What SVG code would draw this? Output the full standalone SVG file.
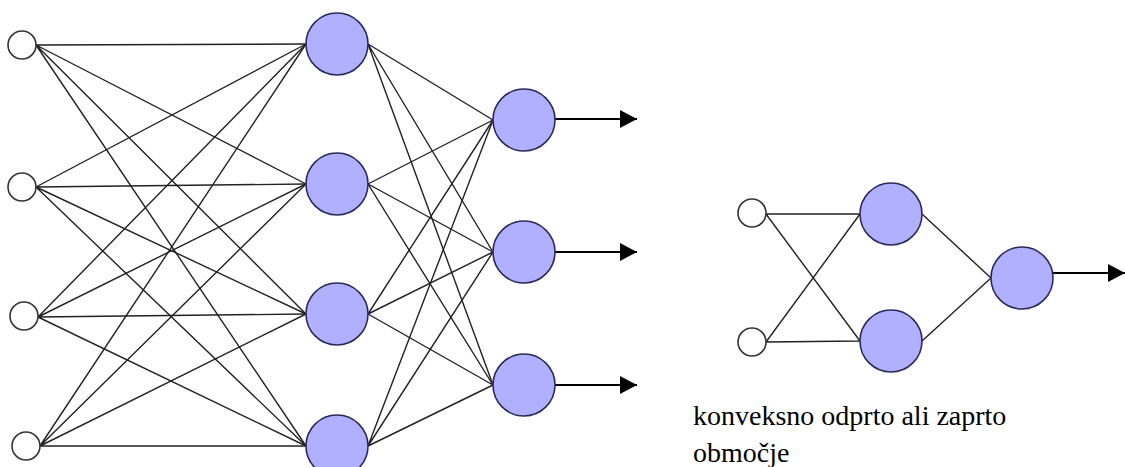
<svg xmlns="http://www.w3.org/2000/svg" width="1125" height="467" viewBox="0 0 1125 467">
<style>
.in{fill:#ffffff;stroke:#333333;stroke-width:1.6}
.nd{fill:#b0b0ff;stroke:#2a2a5a;stroke-width:1.6}
.ln{stroke:#222222;stroke-width:1.4;fill:none}
.ar{stroke:#000000;stroke-width:1.8;fill:none;marker-end:url(#ah)}
</style>
<defs>
<marker id="ah" markerWidth="18" markerHeight="18" refX="17" refY="9" orient="auto" markerUnits="userSpaceOnUse">
<path d="M0,0 L17,9 L0,18 Z" fill="#000"/>
</marker>
</defs>
<rect width="1125" height="467" fill="#ffffff"/>
<g id="connectors">
<path class="ln" d="M36,45 L306,44 M36,45 L306,184 M36,45 L306,314 M36,45 L306,446"/>
<path class="ln" d="M36,187 L306,44 M36,187 L306,184 M36,187 L306,314 M36,187 L306,446"/>
<path class="ln" d="M38,317 L306,44 M38,317 L306,184 M38,317 L306,314 M38,317 L306,446"/>
<path class="ln" d="M40,446 L306,44 M40,446 L306,184 M40,446 L306,314 M40,446 L306,446"/>
<path class="ln" d="M368,44 L493,120 M368,44 L493,252 M368,44 L493,385"/>
<path class="ln" d="M368,184 L493,120 M368,184 L493,252 M368,184 L493,385"/>
<path class="ln" d="M368,314 L493,120 M368,314 L493,252 M368,314 L493,385"/>
<path class="ln" d="M368,446 L493,120 M368,446 L493,252 M368,446 L493,385"/>
<line class="ar" x1="555" y1="119" x2="637" y2="119"/>
<line class="ar" x1="555" y1="252" x2="637" y2="252"/>
<line class="ar" x1="555" y1="385" x2="637" y2="385"/>
<path class="ln" d="M766,214 L860,214 M766,214 L860,341 M766,342 L860,214 M766,342 L860,341"/>
<path class="ln" d="M922,214 L991,278 M922,341 L991,278"/>
<line class="ar" x1="1053" y1="273" x2="1125" y2="273"/>
</g>
<g id="in1"><circle class="in" cx="22" cy="45" r="14"/></g>
<g id="in2"><circle class="in" cx="22" cy="187" r="14"/></g>
<g id="in3"><circle class="in" cx="24" cy="316" r="14"/></g>
<g id="in4"><circle class="in" cx="26" cy="446" r="14"/></g>
<g id="h1"><circle class="nd" cx="337" cy="44" r="31"/></g>
<g id="h2"><circle class="nd" cx="337" cy="184" r="31"/></g>
<g id="h3"><circle class="nd" cx="337" cy="314" r="31"/></g>
<g id="h4"><circle class="nd" cx="337" cy="446" r="31"/></g>
<g id="o1"><circle class="nd" cx="524" cy="120" r="31"/></g>
<g id="o2"><circle class="nd" cx="524" cy="252" r="31"/></g>
<g id="o3"><circle class="nd" cx="524" cy="385" r="31"/></g>
<g id="s_in1"><circle class="in" cx="752" cy="213" r="14"/></g>
<g id="s_in2"><circle class="in" cx="752" cy="342" r="14"/></g>
<g id="s_h1"><circle class="nd" cx="891" cy="214" r="31"/></g>
<g id="s_h2"><circle class="nd" cx="891" cy="341" r="31"/></g>
<g id="s_o"><circle class="nd" cx="1022" cy="278" r="31"/></g>
<g id="caption" font-family="Times New Roman, Liberation Serif, DejaVu Serif, serif" font-size="28" fill="#000">
<text x="693" y="425">konveksno odprto ali zaprto</text>
<text x="693" y="462">območje</text>
</g>
</svg>
